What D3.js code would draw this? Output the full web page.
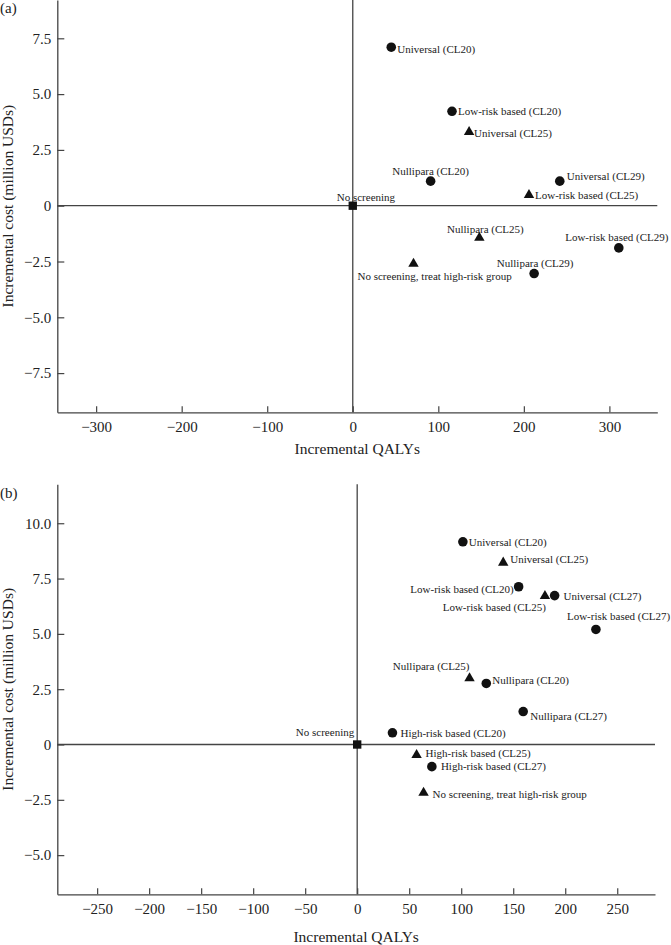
<!DOCTYPE html>
<html>
<head>
<meta charset="utf-8">
<script src="https://cdn.jsdelivr.net/npm/d3@7"></script>
<style>
  html, body { margin: 0; padding: 0; background: #fff; }
  svg { display: block; }
  text { font-family: "Liberation Serif", "Times New Roman", serif; fill: #222; }
</style>
</head>
<body>
<svg id="chart" width="671" height="945"></svg>
<script>
// ---------- DATA ----------
// Panel (a)
const labelsA = ["No screening", "Universal (CL20)", "Low-risk based (CL20)", "Universal (CL25)",
  "Nullipara (CL20)", "Universal (CL29)", "Low-risk based (CL25)", "Nullipara (CL25)",
  "Low-risk based (CL29)", "No screening, treat high-risk group", "Nullipara (CL29)"];
const qalyA = [0, 45, 116, 136, 91, 242, 206, 148, 311, 71, 212];
const costA = [0, 7.1, 4.23, 3.3, 1.1, 1.1, 0.48, -1.44, -1.89, -2.6, -3.04];
const shapeA = ["square", "circle", "circle", "triangle", "circle", "circle", "triangle", "triangle",
  "circle", "triangle", "circle"];
const xTicksA = [-300, -200, -100, 0, 100, 200, 300];
const yTicksA = [-7.5, -5.0, -2.5, 0, 2.5, 5.0, 7.5];

// Panel (b)
const labelsB = ["No screening", "Universal (CL20)", "Universal (CL25)", "Low-risk based (CL20)",
  "Low-risk based (CL25)", "Universal (CL27)", "Low-risk based (CL27)", "Nullipara (CL25)",
  "Nullipara (CL20)", "Nullipara (CL27)", "High-risk based (CL20)", "High-risk based (CL25)",
  "High-risk based (CL27)", "No screening, treat high-risk group"];
const qalyB = [0, 101.6, 140.4, 155.2, 180.5, 189.8, 229.5, 108, 124.1, 159.6, 33.9, 57.1, 71.8, 63.8];
const costB = [0, 9.16, 8.22, 7.13, 6.71, 6.73, 5.2, 2.99, 2.76, 1.49, 0.53, -0.47, -1.0, -2.18];
const shapeB = ["square", "circle", "triangle", "circle", "triangle", "circle", "circle", "triangle",
  "circle", "circle", "circle", "triangle", "circle", "triangle"];
const xTicksB = [-250, -200, -150, -100, -50, 0, 50, 100, 150, 200, 250];
const yTicksB = [-5.0, -2.5, 0, 2.5, 5.0, 7.5, 10.0];

// ---------- LABEL PLACEMENT (anchor, dx, dy relative to marker) ----------
const placeA = [["start",-16,-9],["start",6,2],["start",6,0],["start",5,1],["middle",0,-10],
  ["start",7,-5],["start",6,0],["middle",6,-9],["middle",-2,-11],["start",-56,12],["middle",1,-10]];
const placeB = [["end",-3,-12],["start",6,0],["start",7,-3],["end",-5,2],["end",1,11],["start",9,1],
  ["start",-29,-13],["end",0,-12],["start",6,-3],["start",7,5],["start",8,0],["start",9,-2],
  ["start",9,0],["start",9,1]];

// ---------- DRAWING ----------
const svg = d3.select("#chart");
const minus = s => s.replace("-", "\u2212");
const axisColor = "#444";

const symbolMap = {
  circle: d3.symbol().type(d3.symbolCircle).size(72),
  triangle: d3.symbol().type(d3.symbolTriangle).size(47),
  square: d3.symbol().type(d3.symbolSquare).size(70)
};

function drawPanel(cfg) {
  const g = svg.append("g");
  const x = d3.scaleLinear().domain(cfg.xDomain).range(cfg.xRange);
  const y = d3.scaleLinear().domain(cfg.yDomain).range(cfg.yRange);

  // zero lines
  g.append("line").attr("x1", cfg.xRange[0]).attr("x2", cfg.xRange[1])
    .attr("y1", y(0)).attr("y2", y(0)).attr("stroke", axisColor).attr("stroke-width", 1.3);
  g.append("line").attr("x1", x(0)).attr("x2", x(0))
    .attr("y1", cfg.yRange[0]).attr("y2", cfg.yRange[1]).attr("stroke", axisColor).attr("stroke-width", 1.3);

  // axes
  const xAxis = d3.axisBottom(x).tickValues(cfg.xTicks).tickSizeInner(-6).tickSizeOuter(0)
    .tickPadding(9).tickFormat(d => minus(d3.format("d")(d)));
  const yAxis = d3.axisLeft(y).tickValues(cfg.yTicks).tickSizeInner(-7).tickSizeOuter(0)
    .tickPadding(6).tickFormat(d => d === 0 ? "0" : minus(d3.format(".1f")(d)));

  const gx = g.append("g").attr("transform", `translate(0,${cfg.yRange[0]})`).call(xAxis);
  const gy = g.append("g").attr("transform", `translate(${cfg.xRange[0]},0)`).call(yAxis);
  [gx, gy].forEach(a => {
    a.select(".domain").attr("stroke", axisColor).attr("stroke-width", 1.3);
    a.selectAll(".tick line").attr("stroke", axisColor).attr("stroke-width", 1.2);
    a.selectAll(".tick text").attr("font-family", "Liberation Serif, serif")
      .attr("font-size", 15).attr("fill", "#333");
  });

  // axis titles
  g.append("text").attr("x", (cfg.xRange[0] + cfg.xRange[1]) / 2).attr("y", cfg.xTitleY)
    .attr("text-anchor", "middle").attr("font-size", 15.5).attr("fill", "#333").text("Incremental QALYs");
  g.append("text")
    .attr("transform", `translate(13,${(cfg.yRange[0] + cfg.yRange[1]) / 2}) rotate(-90)`)
    .attr("text-anchor", "middle").attr("font-size", 15.5).attr("fill", "#333")
    .text("Incremental cost (million USDs)");

  // panel letter
  g.append("text").attr("x", 0).attr("y", cfg.letterY).attr("font-size", 15).attr("fill", "#333")
    .text(cfg.letter);

  // points
  const data = cfg.labels.map((l, i) => ({ label: l, qx: cfg.qaly[i], cy: cfg.cost[i], shape: cfg.shape[i], p: cfg.place[i] }));
  const pts = g.append("g").selectAll("g").data(data).join("g")
    .attr("transform", d => `translate(${x(d.qx)},${y(d.cy)})`);
  pts.append("path").attr("d", d => symbolMap[d.shape]()).attr("fill", "#111");
  pts.append("text").attr("x", d => d.p[1]).attr("y", d => d.p[2]).attr("dy", "0.35em")
    .attr("text-anchor", d => d.p[0]).attr("font-size", 11).attr("fill", "#222")
    .text(d => d.label);
}

drawPanel({
  labels: labelsA, qaly: qalyA, cost: costA, shape: shapeA, place: placeA,
  xTicks: xTicksA, yTicks: yTicksA,
  xDomain: [-345.4, 356], xRange: [57.3, 657.3],
  yDomain: [-9.256, 9.216], yRange: [412.3, 0],
  xTitleY: 453.5, letter: "(a)", letterY: 13
});

drawPanel({
  labels: labelsB, qaly: qalyB, cost: costB, shape: shapeB, place: placeB,
  xTicks: xTicksB, yTicks: yTicksB,
  xDomain: [-288.3, 286.3], xRange: [57.3, 655],
  yDomain: [-6.77, 11.76], yRange: [894.3, 484.3],
  xTitleY: 942, letter: "(b)", letterY: 497.5
});
</script>
</body>
</html>
